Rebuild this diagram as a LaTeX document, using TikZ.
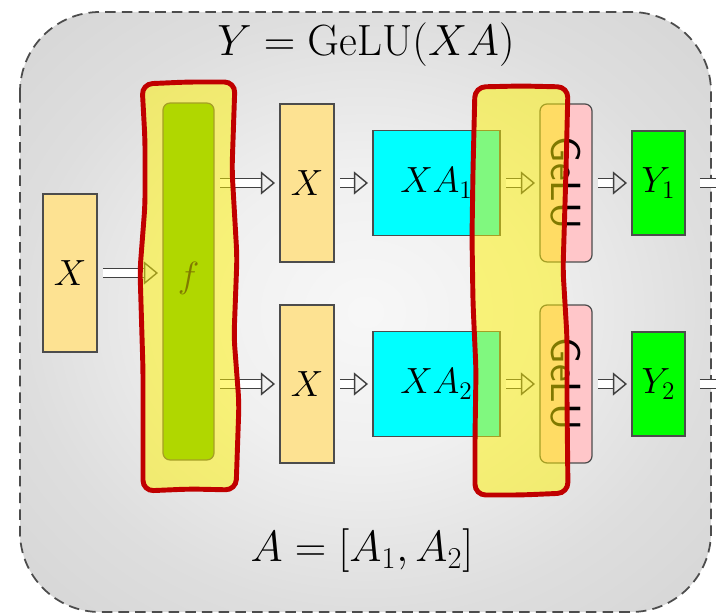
\documentclass[tikz,border=0pt]{standalone}
\usetikzlibrary{arrows.meta}
\definecolor{xfill}{HTML}{FDE292}
\definecolor{xafill}{HTML}{00FFFF}
\definecolor{yfill}{HTML}{00FF00}
\definecolor{gelufill}{HTML}{FFC6C9}
\definecolor{ffill}{HTML}{62BC00}
\definecolor{hlred}{HTML}{C00000}
\pgfdeclareradialshading{bgshade}{\pgfpoint{0bp}{0bp}}{color(0bp)=(white!97!black);
  color(12bp)=(white!94!black); color(25bp)=(white!87!black); color(50bp)=(white!79!black)}
\tikzset{
  blk/.style={draw=black!70, line width=0.7pt, inner sep=0pt},
  xbox/.style={blk, fill=xfill, minimum width=1.08cm, minimum height=3.16cm},
  xabox/.style={blk, fill=xafill, minimum width=2.54cm, minimum height=2.1cm},
  gelubox/.style={blk, fill=gelufill, rounded corners=4pt, rotate=-90,
    minimum width=3.16cm, minimum height=1.04cm, font=\fontsize{24}{28}\sffamily\selectfont},
  ybox/.style={blk, fill=yfill, minimum width=1.06cm, minimum height=2.08cm},
  fblock/.style={blk, fill=ffill, rounded corners=4pt, minimum width=1.02cm, minimum height=7.14cm},
  arr/.style={draw=black!75, line width=0.8pt, double=white, double distance=4pt,
    -{Triangle[open, length=8pt, width=13pt]}, shorten <=3pt, shorten >=2.5pt},
  bgbox/.style={draw=black!70, line width=1pt, dash pattern=on 6pt off 3.5pt,
    rounded corners=1.6cm, shading=bgshade},
  hilite/.style={fill=yellow, fill opacity=0.5, draw=hlred, draw opacity=1,
    line width=2.8pt, rounded corners=6pt}
}
\begin{document}
\begin{tikzpicture}[x=0.02cm, y=-0.02cm, font=\fontsize{21}{25}\selectfont]
  \useasboundingbox (0,0) rectangle (716,614);
  \clip (0,0) rectangle (716,614);
  % background
  \shadedraw[bgbox] (20,12) rectangle (711,612);
  \node (title) at (366,45) {\fontsize{25}{30}\selectfont $Y = \mathrm{GeLU}(XA)$};
  \node (split) at (362,551) {\fontsize{27}{30}\selectfont $A = [A_1, A_2]$};
  % input and f
  \node[xbox] (xin) at (70,273) {$X$};
  \node[fblock] (f) at (188.5,281.5) {\raisebox{8pt}{$f$}};
  \draw[arr] (xin) -- (xin -| f.west);
  % the two branches
  \foreach \i/\y in {1/183, 2/384} {
    \node[xbox] (x\i) at (307,\y) {$X$};
    \node[xabox] (xa\i) at (436.5,\y) {$XA_\i$};
    \node[gelubox] (g\i) at (566,\y) {GeLU};
    \node[ybox] (y\i) at (658.5,\y) {$Y_\i$};
    \coordinate (o\i) at (760,\y);
    \draw[arr] (f.east |- x\i.west) -- (x\i);
    \draw[arr] (x\i) -- (xa\i);
    \draw[arr] (xa\i) -- (g\i);
    \draw[arr] (g\i) -- (y\i);
    \draw[arr, shorten <=8pt] (y\i) -- (o\i);
  }
  % highlights
  \draw[hilite] (142,84) -- (188,82) -- (235,82) -- (232,170) -- (237,257)
    -- (234,337) -- (239,403) -- (236,490) -- (190,489) -- (143,491)
    -- (143,437) -- (143,370) -- (140,270) -- (145,205) -- (145,140) -- cycle;
  \draw[hilite] (475,87) -- (521,86) -- (568,87) -- (566,170) -- (563,270)
    -- (567,337) -- (567,403) -- (568,493) -- (521,495) -- (475,495)
    -- (475,437) -- (476,370) -- (473,303) -- (472,237) -- (473,170) -- cycle;
\end{tikzpicture}
\end{document}
